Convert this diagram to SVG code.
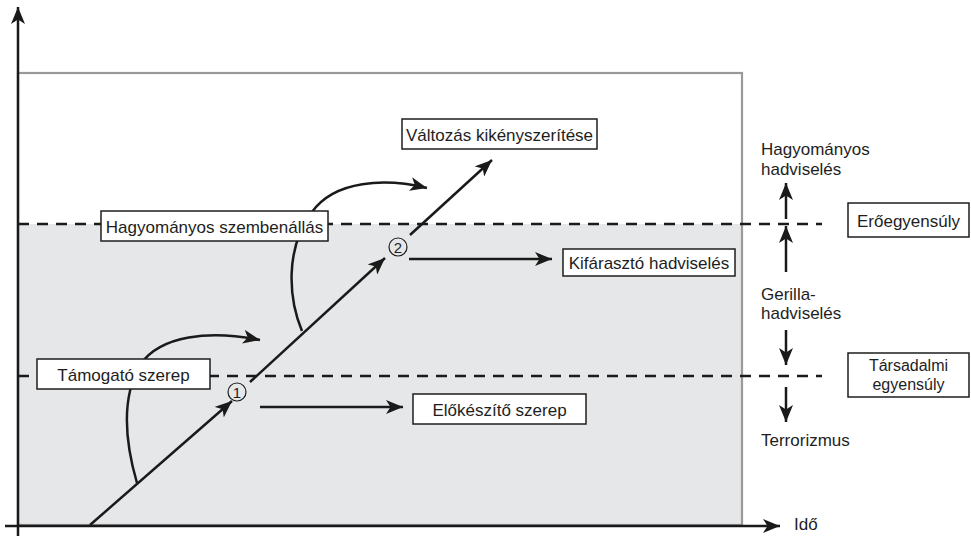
<svg xmlns="http://www.w3.org/2000/svg" width="971" height="536" viewBox="0 0 971 536">
<defs>
<marker id="ah" markerUnits="userSpaceOnUse" markerWidth="20" markerHeight="14" refX="17" refY="7" orient="auto">
<path d="M0,0 L17,7 L0,14 L4.5,7 Z" fill="#1a1a1a"/>
</marker>
<style>
text{font-family:"Liberation Sans",Arial,sans-serif;font-size:17px;fill:#1e1e1e}
.box{fill:#fff;stroke:#1e1e1e;stroke-width:1.5}
.arr{stroke:#1a1a1a;stroke-width:2.5;fill:none;marker-end:url(#ah)}
.dash{stroke:#1a1a1a;stroke-width:2.5;stroke-dasharray:11 8;fill:none}
.c{text-anchor:middle}
.sm{font-size:16px}
.num{fill:none;stroke:#1e1e1e;stroke-width:1.2}
.numt{font-size:15px;text-anchor:middle}
</style>
</defs>
<rect width="971" height="536" fill="#fff"/>
<g id="frame">
<rect x="18" y="224" width="724" height="301" fill="#e6e7e9"/>
<rect x="18" y="73" width="724" height="452" fill="none" stroke="#999" stroke-width="2.2"/>
</g>
<g id="connectors">
<line class="arr" x1="18" y1="536" x2="18" y2="7" stroke-width="2.8"/>
<line class="arr" x1="5" y1="526" x2="780" y2="526" stroke-width="2.8"/>
<line class="dash" x1="18" y1="224" x2="822" y2="224"/>
<line class="dash" x1="18" y1="376" x2="822" y2="376"/>
<line class="arr" x1="90" y1="525" x2="232" y2="401"/>
<line class="arr" x1="250" y1="382" x2="385" y2="258"/>
<line class="arr" x1="410" y1="235" x2="492" y2="160"/>
<line class="arr" x1="260" y1="407" x2="403" y2="407"/>
<line class="arr" x1="409" y1="259" x2="552" y2="259"/>
<path class="arr" d="M137,483 C126,445 120,400 140,365 C160,335 210,330 260,340"/>
<path class="arr" d="M302,331 C289,300 284,250 312,212 C335,180 385,178 427,188"/>
<line class="arr" x1="786" y1="219" x2="786" y2="183"/>
<line class="arr" x1="786" y1="272" x2="786" y2="226"/>
<line class="arr" x1="786" y1="330" x2="786" y2="365"/>
<line class="arr" x1="786" y1="387" x2="786" y2="422"/>
</g>
<g id="n-hagyomanyos-szembenallas">
<rect class="box" x="101" y="211" width="227" height="30"/>
<text class="c" x="214.5" y="233">Hagyományos szembenállás</text>
</g>
<g id="n-valtozas">
<rect class="box" x="402" y="119" width="195" height="30"/>
<text class="c" x="499.5" y="141">Változás kikényszerítése</text>
</g>
<g id="n-kifaraszto">
<rect class="box" x="563" y="249" width="172" height="27"/>
<text class="c" x="649" y="269">Kifárasztó hadviselés</text>
</g>
<g id="n-tamogato">
<rect class="box" x="37" y="359" width="173" height="30"/>
<text class="c" x="123.5" y="381">Támogató szerep</text>
</g>
<g id="n-elokeszito">
<rect class="box" x="413" y="394" width="173" height="30"/>
<text class="c" x="499.5" y="416">Előkészítő szerep</text>
</g>
<g id="n-eroegyensuly">
<rect class="box" x="848" y="203" width="121" height="34"/>
<text class="c" x="908.5" y="227">Erőegyensúly</text>
</g>
<g id="n-tarsadalmi">
<rect class="box" x="848" y="353" width="121" height="44"/>
<text class="c sm" x="908.5" y="371">Társadalmi</text>
<text class="c sm" x="908.5" y="390">egyensúly</text>
</g>
<g id="n-num1">
<circle class="num" cx="237" cy="392" r="9"/>
<text class="numt" x="237" y="397.5">1</text>
</g>
<g id="n-num2">
<circle class="num" cx="398" cy="247" r="9"/>
<text class="numt" x="398" y="252.5">2</text>
</g>
<g id="labels">
<text x="761" y="155">Hagyományos</text>
<text x="761" y="175">hadviselés</text>
<text x="761" y="300">Gerilla-</text>
<text x="761" y="319">hadviselés</text>
<text x="761" y="446">Terrorizmus</text>
<text x="794" y="530">Idő</text>
</g>
</svg>
